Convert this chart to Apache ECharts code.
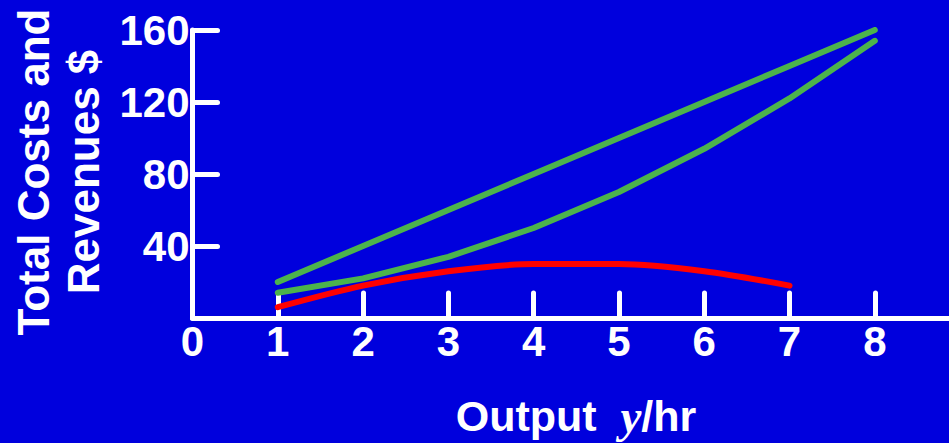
<!DOCTYPE html>
<html>
<head>
<meta charset="utf-8">
<script src="https://cdn.jsdelivr.net/npm/echarts@6/dist/echarts.min.js"></script>
<style>
html,body{margin:0;padding:0;background:#0000dd;}
#chart{width:949px;height:443px;}
</style>
</head>
<body>
<div id="chart"></div>
<script>
const outputs = [1, 2, 3, 4, 5, 6, 7, 8];
const totalRevenue = [20, 40, 60, 80, 100, 120, 140, 160];
const totalCost = [14, 22, 34, 50, 70, 94, 122, 154];
const profit = [6, 18, 26, 30, 30, 26, 18];
const xTicks = [0, 1, 2, 3, 4, 5, 6, 7, 8];
const yAxisTitle = 'Total Costs and\nRevenues $';

const chart = echarts.init(document.getElementById('chart'), null, {renderer: 'svg'});
const font = 'Liberation Sans, Arial, sans-serif';
const pairs = (xs, ys) => ys.map((v, i) => [xs[i], v]);

chart.setOption({
  backgroundColor: '#0000dd',
  animation: false,
  grid: {left: 192.5, right: 0, top: 30, bottom: 125, containLabel: false},
  xAxis: {
    type: 'value', min: 0, max: 8.87, interval: 1,
    axisLine: {show: true, lineStyle: {color: '#fff', width: 5}},
    axisTick: {show: true, inside: true, length: 25, customValues: xTicks,
               lineStyle: {color: '#fff', width: 5, cap: 'round'}},
    splitLine: {show: false},
    axisLabel: {
      color: '#fff', fontSize: 42, fontWeight: 'bold', fontFamily: font, margin: 2,
      customValues: xTicks,
      formatter: v => (Number.isInteger(v) ? String(v) : '')
    }
  },
  yAxis: {
    type: 'value', min: 0, max: 160, interval: 40,
    axisLine: {show: true, lineStyle: {color: '#fff', width: 5}},
    axisTick: {show: true, inside: true, length: 25, lineStyle: {color: '#fff', width: 5, cap: 'round'}},
    splitLine: {show: false},
    axisLabel: {
      color: '#fff', fontSize: 42, fontWeight: 'bold', fontFamily: font, margin: 3,
      showMinLabel: false, padding: [0, 0, 6, 0],
      formatter: v => (v === 0 ? '' : String(v))
    }
  },
  series: [
    {type: 'line', data: pairs(outputs, totalRevenue), symbol: 'none',
     lineStyle: {color: '#4cb34c', width: 6, cap: 'round', join: 'round'}},
    {type: 'line', data: pairs(outputs, totalCost), symbol: 'none',
     lineStyle: {color: '#4cb34c', width: 6, cap: 'round', join: 'round'}},
    {type: 'line', data: pairs(outputs, profit), symbol: 'none', smooth: 0.3,
     lineStyle: {color: '#ff0000', width: 6, cap: 'round', join: 'round'}}
  ],
  graphic: [
    {type: 'text', x: 58, y: 172, rotation: Math.PI / 2,
     style: {text: yAxisTitle, fill: '#fff', font: 'bold 44px ' + font,
             textAlign: 'center', textVerticalAlign: 'middle', lineHeight: 50}},
    {type: 'text', x: 576, y: 416,
     style: {
       text: '{a|Output  }{b|y}{a|/hr}', textAlign: 'center', textVerticalAlign: 'middle',
       rich: {
         a: {fill: '#fff', fontSize: 43, fontWeight: 'bold', fontFamily: font},
         b: {fill: '#fff', fontSize: 47, fontStyle: 'italic', fontWeight: 'bold', fontFamily: 'Liberation Serif, Times New Roman, serif'}
       }
     }}
  ]
});
</script>
</body>
</html>
